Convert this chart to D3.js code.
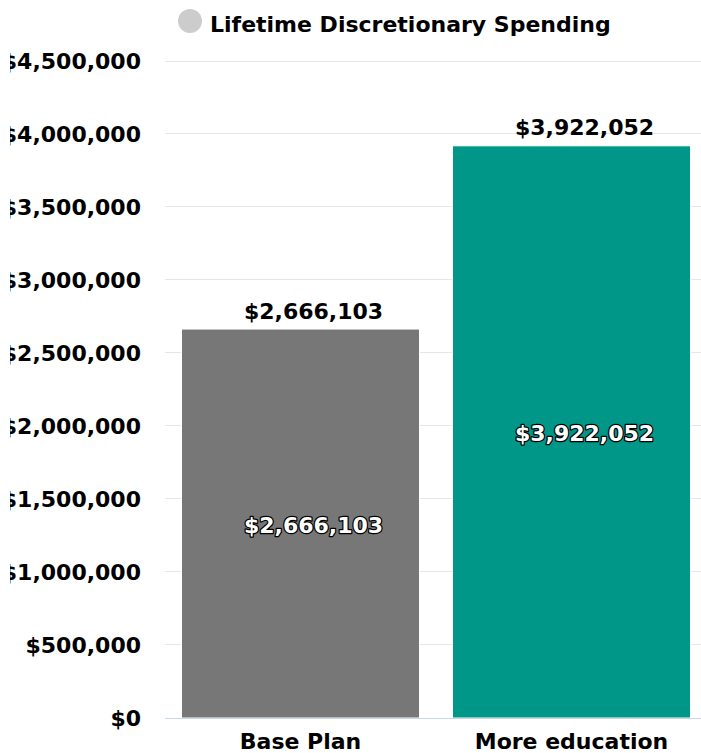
<!DOCTYPE html>
<html>
<head>
<meta charset="utf-8">
<script src="https://cdn.jsdelivr.net/npm/d3@7"></script>
<style>
  html, body { margin: 0; padding: 0; background: #ffffff; overflow: hidden; }
  svg { display: block; font-family: "DejaVu Sans", sans-serif; font-weight: bold; }
</style>
</head>
<body>
<svg id="chart" width="701" height="753"></svg>
<script>
// Lifetime discretionary spending per plan
const categories = ["Base Plan", "More education"];
const spending = [2666103, 3922052];
const barColors = ["#777777", "#009688"];
const yTicks = [0, 500000, 1000000, 1500000, 2000000, 2500000, 3000000, 3500000, 4000000, 4500000];
const seriesName = "Lifetime Discretionary Spending";

const svg = d3.select("#chart");
const plot = { left: 165, right: 707, top: 61.5, bottom: 718 };
const fontSize = 22;

// the frame cuts the widest axis labels at the left edge
svg.append("defs").append("clipPath").attr("id", "frame")
  .append("rect").attr("x", 10).attr("y", 0).attr("width", 691).attr("height", 753);

const x = d3.scaleBand()
  .domain(categories)
  .range([plot.left, plot.right])
  .paddingInner(0.1218)
  .paddingOuter(0.0609);

const y = d3.scaleLinear()
  .domain([0, 4500000])
  .range([plot.bottom, plot.top]);

const money = v => "$" + d3.format(",")(v);

// gridlines
svg.append("g")
  .selectAll("line")
  .data(yTicks.slice(1))
  .join("line")
  .attr("x1", plot.left).attr("x2", 701)
  .attr("y1", d => Math.round(y(d)) - 0.5).attr("y2", d => Math.round(y(d)) - 0.5)
  .attr("stroke", "#e6e6e6").attr("stroke-width", 1);

// y axis labels
const yAxis = d3.axisLeft(y).tickValues(yTicks).tickFormat(money).tickSize(0).tickPadding(24);
const gyWrap = svg.append("g").attr("clip-path", "url(#frame)");
const gy = gyWrap.append("g").attr("transform", `translate(${plot.left},0)`).call(yAxis);
gy.select(".domain").remove();
gy.selectAll("text")
  .attr("font-family", "DejaVu Sans, sans-serif")
  .attr("font-weight", "bold")
  .attr("font-size", fontSize)
  .attr("fill", "#000");

// bars, with a thin white edge
svg.append("g")
  .selectAll("rect")
  .data(categories)
  .join("rect")
  .attr("x", d => x(d))
  .attr("width", x.bandwidth())
  .attr("y", (d, i) => y(spending[i]))
  .attr("height", (d, i) => y(0) - y(spending[i]))
  .attr("fill", (d, i) => barColors[i])
  .attr("stroke", "#ffffff")
  .attr("stroke-width", 1);

// baseline
svg.append("line")
  .attr("x1", plot.left).attr("x2", 701)
  .attr("y1", plot.bottom + 0.5).attr("y2", plot.bottom + 0.5)
  .attr("stroke", "#ccd6eb").attr("stroke-width", 1);

// x axis labels
const xAxis = d3.axisBottom(x).tickSize(0).tickPadding(15);
const gx = svg.append("g").attr("transform", `translate(0,${plot.bottom})`).call(xAxis);
gx.select(".domain").remove();
gx.selectAll("text")
  .attr("font-family", "DejaVu Sans, sans-serif")
  .attr("font-weight", "bold")
  .attr("font-size", fontSize)
  .attr("fill", "#000");

const labelShift = 13;

// value labels above the bars
svg.append("g")
  .selectAll("text")
  .data(categories)
  .join("text")
  .attr("x", d => x(d) + x.bandwidth() / 2 + labelShift)
  .attr("y", (d, i) => y(spending[i]) - 10.5)
  .attr("text-anchor", "middle")
  .attr("font-size", fontSize)
  .attr("fill", "#000")
  .text((d, i) => money(spending[i]));

// value labels inside the bars
svg.append("g")
  .selectAll("text")
  .data(categories)
  .join("text")
  .attr("x", d => x(d) + x.bandwidth() / 2 + labelShift)
  .attr("y", (d, i) => (y(spending[i]) + y(0)) / 2)
  .attr("dy", "0.42em")
  .attr("text-anchor", "middle")
  .attr("font-size", fontSize)
  .attr("fill", "#fff")
  .attr("stroke", "#000")
  .attr("stroke-width", 2.5)
  .attr("stroke-linejoin", "round")
  .attr("paint-order", "stroke")
  .text((d, i) => money(spending[i]));

// legend
const legend = svg.append("g");
legend.append("circle").attr("cx", 190).attr("cy", 21).attr("r", 12).attr("fill", "#cccccc");
legend.append("text").attr("x", 210).attr("y", 31.5)
  .attr("font-size", fontSize).attr("fill", "#000")
  .text(seriesName);
</script>
</body>
</html>
